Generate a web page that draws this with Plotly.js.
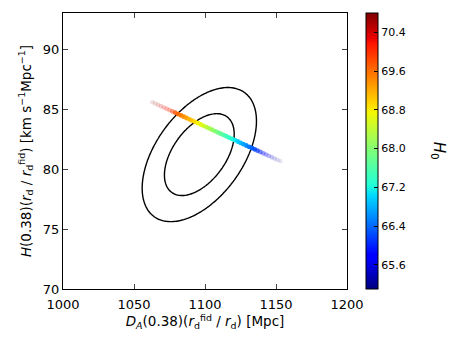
<!DOCTYPE html>
<html>
<head>
<meta charset="utf-8">
<script src="https://cdn.plot.ly/plotly-3.0.1.min.js"></script>
<style>html,body{margin:0;padding:0;background:#fff;}#chart{width:457px;height:342px;}</style>
</head>
<body>
<div id="chart"></div>
<script>
// Measurement (BAO at z=0.38): mean, errors, correlation
const meanDA = 1096.0;
const meanH = 81.2;
const sigDA = 16.2;
const sigH = 2.25;
const rho = 0.5;
const contourLevels = [2.30, 6.17]; // 1 and 2 sigma (delta chi^2)

// Sample line coloured by H0
const sampleDA = [1063,1065,1067,1069,1071,1073,1075,1077,1079,1081,1083,1085,1087,1089,1091,1093,1095,1097,1099,1101,1103,1105,1107,1109,1111,1113,1115,1117,1119,1121,1123,1125,1127,1129,1131,1133,1135,1137,1139,1141,1143,1145,1147,1149,1151,1153];
const sampleH = [85.56,85.45,85.34,85.23,85.12,85.02,84.91,84.80,84.69,84.58,84.47,84.36,84.25,84.14,84.03,83.93,83.82,83.71,83.60,83.49,83.38,83.27,83.16,83.05,82.94,82.84,82.73,82.62,82.51,82.40,82.29,82.18,82.07,81.96,81.85,81.75,81.64,81.53,81.42,81.31,81.20,81.09,80.98,80.87,80.76,80.66];
const sampleH0 = [70.80,70.67,70.55,70.42,70.29,70.17,70.04,69.91,69.79,69.66,69.53,69.41,69.28,69.15,69.03,68.90,68.77,68.65,68.52,68.39,68.27,68.14,68.01,67.89,67.76,67.63,67.51,67.38,67.25,67.13,67.00,66.87,66.75,66.62,66.49,66.37,66.24,66.11,65.99,65.86,65.73,65.61,65.48,65.35,65.23,65.10];
const sampleWeight = [0.12,0.14,0.16,0.19,0.22,0.26,0.32,0.5,0.8,0.95,1,1,1,1,1,1,1,1,1,1,1,1,1,1,1,1,1,1,1,1,1,1,1,1,1,1,0.9,0.7,0.5,0.38,0.3,0.24,0.2,0.16,0.13,0.1];

const cbTicks = [65.6,66.4,67.2,68.0,68.8,69.6,70.4];
const cbTickText = ['65.6','66.4','67.2','68.0','68.8','69.6','70.4'];
const xTicks = [1000,1050,1100,1150,1200];
const yTicks = [70,75,80,85,90];

// chi^2 grid for the confidence contours
const gx = [], gy = [], gz = [];
for (let i = 0; i <= 200; i++) gx.push(1000 + i);
for (let j = 0; j <= 230; j++) gy.push(70 + j * 0.1);
for (let j = 0; j < gy.length; j++) {
  const row = [];
  const dy = (gy[j] - meanH) / sigH;
  for (let i = 0; i < gx.length; i++) {
    const dx = (gx[i] - meanDA) / sigDA;
    row.push((dx*dx - 2*rho*dx*dy + dy*dy) / (1 - rho*rho));
  }
  gz.push(row);
}

const jet = [[0,'#00007f'],[0.11,'#0000ff'],[0.125,'#0000ff'],[0.34,'#00dbff'],[0.35,'#0ae5f2'],[0.375,'#1fffd8'],[0.5,'#7dff7a'],[0.64,'#f4f802'],[0.66,'#ffe200'],[0.89,'#ff1300'],[0.91,'#e80000'],[1,'#7f0000']];

const font = {family: 'DejaVu Sans, sans-serif', size: 13, color: '#000'};
const titleFont = {family: 'DejaVu Sans, sans-serif', size: 13.5, color: '#000'};

const traces = [
  {
    type: 'contour', x: gx, y: gy, z: gz,
    autocontour: false,
    contours: {start: contourLevels[0], end: contourLevels[1], size: contourLevels[1] - contourLevels[0], coloring: 'none'},
    line: {color: '#000', width: 1.4, smoothing: 1},
    showscale: false, hoverinfo: 'skip'
  },
  {
    type: 'scatter', mode: 'markers', x: sampleDA, y: sampleH,
    marker: {
      size: 4.8, color: sampleH0, opacity: sampleWeight,
      colorscale: jet, cmin: 65.1, cmax: 70.8,
      line: {width: 0},
      colorbar: {
        x: 1.067, xanchor: 'left', xref: 'paper',
        y: 0.5, yanchor: 'middle', len: 1, lenmode: 'fraction',
        thickness: 12, thicknessmode: 'pixels',
        outlinecolor: '#000', outlinewidth: 1,
        tickvals: cbTicks, ticktext: cbTickText,
        ticks: 'inside', ticklen: 4, tickcolor: '#000',
        tickfont: {family: 'DejaVu Sans, sans-serif', size: 11, color: '#000'},
        xpad: 0, ypad: 0
      }
    },
    showlegend: false
  }
];

const layout = {
  width: 457, height: 342,
  margin: {l: 63, r: 110, t: 13, b: 53},
  paper_bgcolor: '#fff', plot_bgcolor: '#fff',
  font: font,
  showlegend: false,
  xaxis: {
    range: [1000, 1200], tickvals: xTicks, ticks: 'inside', ticklen: 5,
    ticklabelstandoff: 3,
    showline: true, linecolor: '#000', linewidth: 1, mirror: 'ticks',
    showgrid: false, zeroline: false, tickfont: font,
    title: {text: '<i>D</i><sub><i>A</i></sub>(0.38)(<i>r</i><sub>d</sub><sup>fid</sup> / <i>r</i><sub>d</sub>) [Mpc]', font: titleFont, standoff: 2}
  },
  yaxis: {
    range: [70, 93], tickvals: yTicks, ticks: 'inside', ticklen: 5,
    showline: true, linecolor: '#000', linewidth: 1, mirror: 'ticks',
    showgrid: false, zeroline: false, tickfont: font,
    title: {text: '<i>H</i>(0.38)(<i>r</i><sub>d</sub> / <i>r</i><sub>d</sub><sup>fid</sup>) [km s<sup>−1</sup>Mpc<sup>−1</sup>]', font: titleFont, standoff: 8}
  },
  annotations: [{
    text: '<i>H</i><sub>0</sub>', xref: 'paper', yref: 'paper',
    x: 1.325, y: 0.5, xanchor: 'center', yanchor: 'middle',
    textangle: 90, showarrow: false,
    font: {family: 'DejaVu Sans, sans-serif', size: 15, color: '#000'}
  }]
};

Plotly.newPlot('chart', traces, layout, {displayModeBar: false, staticPlot: true});
</script>
</body>
</html>
